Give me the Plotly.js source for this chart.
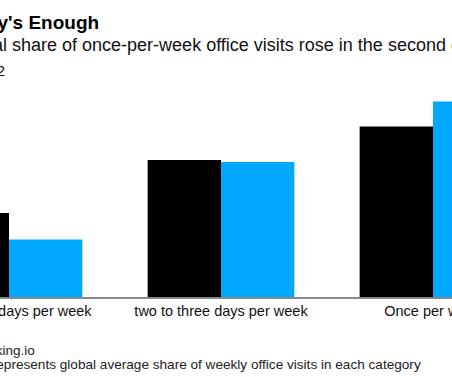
<!DOCTYPE html>
<html>
<head>
<meta charset="utf-8">
<script src="https://cdn.plot.ly/plotly-3.0.1.min.js"></script>
<style>
html,body{margin:0;padding:0;background:#fff;overflow:hidden;}
#chart{width:452px;height:377px;}
</style>
</head>
<body>
<div id="chart"></div>
<script>
const categories = ['four to five days per week', 'two to three days per week', 'Once per week'];
const q1Values = [16.8, 27.4, 34.1];
const q2Values = [11.5, 27.0, 39.1];
const seriesNames = ['Q1', 'Q2'];

const W = 452, H = 377, T = 97, B = 80;
const plotH = H - T - B;
const py = (pix) => (H - B - pix) / plotH;
const px = (pix) => pix / W;

const FONT = 'Liberation Sans, Arial, sans-serif';

const traces = [
  {type: 'bar', name: seriesNames[0], x: categories, y: q1Values, marker: {color: '#000000'}, hoverinfo: 'skip'},
  {type: 'bar', name: seriesNames[1], x: categories, y: q2Values, marker: {color: '#00a9ff'}, hoverinfo: 'skip'}
];

const layout = {
  width: W, height: H,
  margin: {l: 0, r: 0, t: T, b: B, pad: 0},
  paper_bgcolor: '#fff', plot_bgcolor: '#fff',
  showlegend: false,
  barmode: 'group', bargap: 0.308, bargroupgap: 0,
  font: {family: FONT, color: '#000'},
  xaxis: {
    type: 'category',
    range: [-9/212, -9/212 + W/212],
    showline: true, linecolor: '#888', linewidth: 2,
    ticks: '', showgrid: false, zeroline: false,
    tickfont: {size: 14.5, color: '#111', family: FONT},
    fixedrange: true
  },
  yaxis: {range: [0, 40], visible: false, showgrid: false, zeroline: false, fixedrange: true},
  annotations: [
    {text: "<b>One Day's Enough</b>", xref: 'paper', yref: 'paper', x: px(101), y: py(22), xanchor: 'right', yanchor: 'middle', showarrow: false, font: {size: 19, color: '#000', family: FONT}},
    {text: 'Global share of once-per-week office visits rose in the second quarter', xref: 'paper', yref: 'paper', x: px(-47), y: py(45), xanchor: 'left', yanchor: 'middle', showarrow: false, font: {size: 18, color: '#111', family: FONT}},
    {text: 'Q1 vs. Q2 2022', xref: 'paper', yref: 'paper', x: px(6.5), y: py(70), xanchor: 'right', yanchor: 'middle', showarrow: false, font: {size: 15, color: '#111', family: FONT}},
    {text: 'Source: Desk Booking.io', xref: 'paper', yref: 'paper', x: px(37), y: py(350), xanchor: 'right', yanchor: 'middle', showarrow: false, font: {size: 13.5, color: '#222', family: FONT}},
    {text: 'Note: Data represents global average share of weekly office visits in each category', xref: 'paper', yref: 'paper', x: px(423), y: py(364), xanchor: 'right', yanchor: 'middle', showarrow: false, font: {size: 13.6, color: '#222', family: FONT}}
  ]
};

Plotly.newPlot('chart', traces, layout, {displayModeBar: false, staticPlot: true});
</script>
</body>
</html>
